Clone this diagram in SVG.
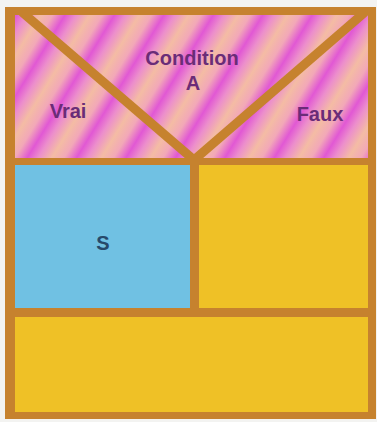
<svg xmlns="http://www.w3.org/2000/svg" width="377" height="422" viewBox="0 0 377 422">
<defs>
<linearGradient id="pinkStripes" gradientUnits="userSpaceOnUse" x1="0" y1="0" x2="36" y2="22" spreadMethod="repeat">
<stop offset="0" stop-color="#f4bca4"/>
<stop offset="0.25" stop-color="#f2a8b8"/>
<stop offset="0.5" stop-color="#e158d4"/>
<stop offset="0.72" stop-color="#ec8ecc"/>
<stop offset="1" stop-color="#f4bca4"/>
</linearGradient>
<clipPath id="topClip"><rect x="15" y="15" width="353" height="143"/></clipPath>
</defs>
<style>
.frame{fill:#c6822e}
.pink{fill:url(#pinkStripes)}
.blue{fill:#70c1e3}
.yellow{fill:#efc126}
.bar{stroke:#c6822e;stroke-width:9;fill:none;stroke-linecap:butt}
.lbl{font-family:"Liberation Sans",Arial,sans-serif;font-weight:bold;font-size:20px;fill:#6a2c78;text-anchor:middle}
.lblS{font-family:"Liberation Sans",Arial,sans-serif;font-weight:bold;font-size:20px;fill:#27496a;text-anchor:middle}
</style>
<rect width="377" height="422" fill="#f3f3f1"/>
<rect class="frame" x="5" y="7" width="371" height="412"/>
<g id="condition">
<rect class="pink" x="15" y="15" width="353" height="143"/>
<text class="lbl" x="192" y="65">Condition</text>
<text class="lbl" x="193" y="90">A</text>
</g>
<g id="vrai">
<text class="lbl" x="68" y="118">Vrai</text>
</g>
<g id="faux">
<text class="lbl" x="320" y="121">Faux</text>
</g>
<g id="s">
<rect class="blue" x="15" y="165" width="175" height="143"/>
<text class="lblS" x="103" y="250">S</text>
</g>
<g id="else">
<rect class="yellow" x="199" y="165" width="169" height="143"/>
</g>
<g id="next">
<rect class="yellow" x="15" y="317" width="353" height="95"/>
</g>
<g id="connectors" clip-path="url(#topClip)">
<line class="bar" x1="22" y1="12" x2="194" y2="160"/>
<line class="bar" x1="194" y1="160" x2="365" y2="12"/>
</g>
</svg>
